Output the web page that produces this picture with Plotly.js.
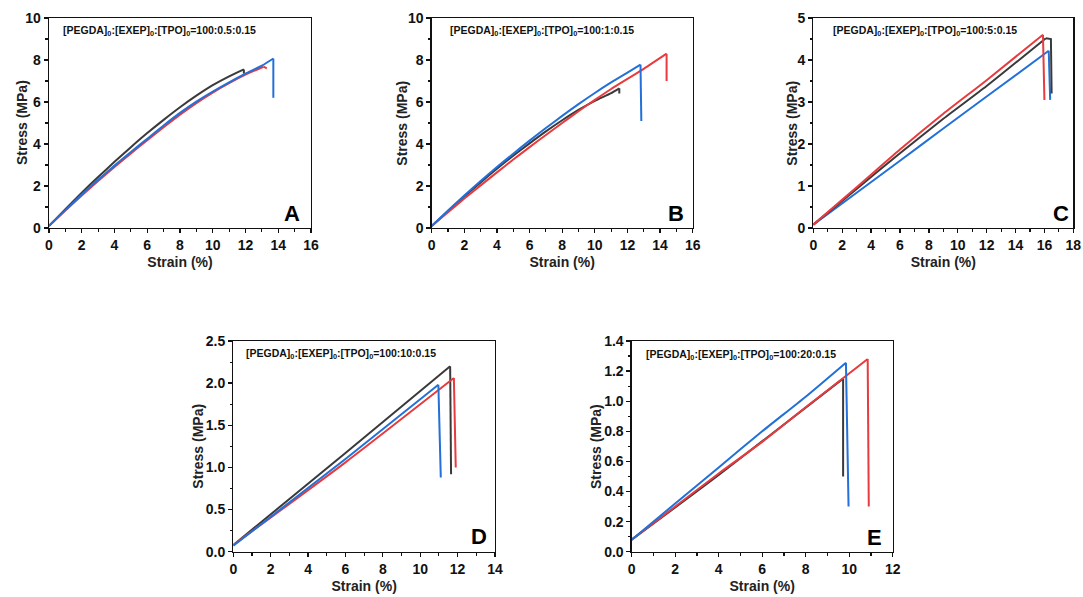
<!DOCTYPE html>
<html>
<head>
<meta charset="utf-8">
<script src="https://cdn.plot.ly/plotly-3.0.1.min.js"></script>
<style>html,body{margin:0;padding:0;background:#fff;}#chart{width:1083px;height:597px;}</style>
</head>
<body>
<div id="chart"></div>
<script>
// ---- Panel A ----
const blackA_x = [0, 1, 2, 3, 4, 5, 6, 7, 8, 9, 10, 11, 11.9, 11.9];
const blackA_y = [0.1, 0.9, 1.68, 2.43, 3.15, 3.85, 4.52, 5.15, 5.75, 6.3, 6.8, 7.22, 7.55, 7.35];
const redA_x = [0, 1, 2, 3, 4, 5, 6, 7, 8, 9, 10, 11, 12, 13.1, 13.3];
const redA_y = [0.1, 0.83, 1.55, 2.24, 2.9, 3.55, 4.18, 4.8, 5.4, 5.95, 6.45, 6.9, 7.3, 7.68, 7.6];
const blueA_x = [0, 1, 2, 3, 4, 5, 6, 7, 8, 9, 10, 11, 12, 13, 13.7, 13.7];
const blueA_y = [0.1, 0.85, 1.6, 2.3, 2.97, 3.62, 4.25, 4.88, 5.48, 6.02, 6.5, 6.94, 7.35, 7.73, 8.07, 6.2];
// ---- Panel B ----
const blackB_x = [0, 1, 2, 3, 4, 5, 6, 7, 8, 9, 10, 11, 11.5, 11.5];
const blackB_y = [0.1, 0.8, 1.5, 2.17, 2.82, 3.44, 4.03, 4.6, 5.13, 5.62, 6.05, 6.42, 6.65, 6.4];
const redB_x = [0, 1, 2, 3, 4, 5, 6, 7, 8, 9, 10, 11, 12, 13, 14.4, 14.4];
const redB_y = [0.1, 0.75, 1.4, 2.03, 2.65, 3.26, 3.85, 4.43, 5.0, 5.56, 6.1, 6.62, 7.1, 7.58, 8.3, 7.0];
const blueB_x = [0, 1, 2, 3, 4, 5, 6, 7, 8, 9, 10, 11, 12, 12.8, 12.85];
const blueB_y = [0.1, 0.83, 1.55, 2.24, 2.9, 3.54, 4.16, 4.76, 5.34, 5.9, 6.43, 6.93, 7.4, 7.78, 5.1];
// ---- Panel C ----
const blueC_x = [0, 3, 6, 9, 12, 16.3, 16.4];
const blueC_y = [0.08, 0.84, 1.6, 2.37, 3.13, 4.22, 3.05];
const blackC_x = [0, 3, 6, 9, 12, 16.1, 16.45, 16.5];
const blackC_y = [0.08, 0.93, 1.78, 2.6, 3.38, 4.52, 4.5, 3.2];
const redC_x = [0, 3, 6, 9, 12, 15.9, 16.0];
const redC_y = [0.08, 0.97, 1.87, 2.72, 3.52, 4.6, 3.05];
// ---- Panel D ----
const blackD_x = [0, 6, 11.6, 11.65];
const blackD_y = [0.08, 1.17, 2.2, 0.92];
const redD_x = [0, 6, 11.8, 11.9];
const redD_y = [0.08, 1.06, 2.06, 1.0];
const blueD_x = [0, 6, 10.97, 11.1];
const blueD_y = [0.07, 1.1, 1.98, 0.88];
// ---- Panel E ----
const blackE_x = [0, 4, 9.72, 9.72];
const blackE_y = [0.08, 0.51, 1.15, 0.5];
const redE_x = [0, 2, 4, 6, 8, 10.85, 10.9];
const redE_y = [0.08, 0.3, 0.52, 0.73, 0.96, 1.28, 0.3];
const blueE_x = [0, 2, 4, 6, 8, 9.85, 9.97];
const blueE_y = [0.08, 0.32, 0.56, 0.8, 1.03, 1.256, 0.3];

const panelLabels = ["A", "B", "C", "D", "E"];
const compositions = [
  "[PEGDA]<sub>0</sub>:[EXEP]<sub>0</sub>:[TPO]<sub>0</sub>=100:0.5:0.15",
  "[PEGDA]<sub>0</sub>:[EXEP]<sub>0</sub>:[TPO]<sub>0</sub>=100:1:0.15",
  "[PEGDA]<sub>0</sub>:[EXEP]<sub>0</sub>:[TPO]<sub>0</sub>=100:5:0.15",
  "[PEGDA]<sub>0</sub>:[EXEP]<sub>0</sub>:[TPO]<sub>0</sub>=100:10:0.15",
  "[PEGDA]<sub>0</sub>:[EXEP]<sub>0</sub>:[TPO]<sub>0</sub>=100:20:0.15"
];
const xTitle = "Strain (%)";
const yTitle = "Stress (MPa)";

const BLACK = "#3a3a3a", RED = "#e83b3f", BLUE = "#2270d8";
// each curve: smooth loading part up to the peak (spline) + straight fracture tail
function tr(x, y, color, ax) {
  let pk = 0;
  y.forEach((v, k) => { if (v > y[pk]) pk = k; });
  const base = {type: "scatter", mode: "lines", xaxis: "x" + ax, yaxis: "y" + ax,
                showlegend: false, hoverinfo: "skip"};
  return [
    Object.assign({}, base, {x: x.slice(0, pk + 1), y: y.slice(0, pk + 1),
      line: {color: color, width: 2, shape: "spline", smoothing: 0.6}}),
    Object.assign({}, base, {x: x.slice(pk), y: y.slice(pk),
      line: {color: color, width: 2}})
  ];
}
const data = [].concat(
  tr(blackA_x, blackA_y, BLACK, ""), tr(redA_x, redA_y, RED, ""), tr(blueA_x, blueA_y, BLUE, ""),
  tr(blackB_x, blackB_y, BLACK, "2"), tr(redB_x, redB_y, RED, "2"), tr(blueB_x, blueB_y, BLUE, "2"),
  tr(blueC_x, blueC_y, BLUE, "3"), tr(blackC_x, blackC_y, BLACK, "3"), tr(redC_x, redC_y, RED, "3"),
  tr(blackD_x, blackD_y, BLACK, "4"), tr(redD_x, redD_y, RED, "4"), tr(blueD_x, blueD_y, BLUE, "4"),
  tr(blackE_x, blackE_y, BLACK, "5"), tr(redE_x, redE_y, RED, "5"), tr(blueE_x, blueE_y, BLUE, "5")
);

const W = 1083, H = 597;
// pixel boxes [left, right, top, bottom]
const boxes = [
  [49, 311, 18, 228],
  [431.7, 692.7, 18, 228],
  [813.3, 1073.3, 18, 228],
  [233.3, 495, 341, 551.7],
  [631.7, 892.7, 341, 551.7]
];
const yTitleX = [22, 401.7, 791.7, 198.3, 596.7];
const xr = [[0, 16, 2], [0, 16, 2], [0, 18, 2], [0, 14, 2], [0, 12, 2]];
const yr = [[0, 10, 2], [0, 10, 2], [0, 5, 1], [0, 2.5, 0.5], [0, 1.4, 0.2]];
const yfmt = ["", "", "", ".1f", ".1f"];
const txtPos = [[0.046, 0.938], [0.062, 0.938], [0.068, 0.938], [0.042, 0.938], [0.048, 0.934]];
const letPos = [[0.927, 0.071], [0.936, 0.071], [0.953, 0.071], [0.939, 0.074], [0.932, 0.068]];

const font = "Liberation Sans, Arial, sans-serif";
const layout = {
  width: W, height: H, margin: {l: 0, r: 0, t: 0, b: 0},
  paper_bgcolor: "#fff", plot_bgcolor: "#fff", showlegend: false,
  font: {family: font, color: "#111"},
  annotations: []
};
boxes.forEach((b, i) => {
  const s = i === 0 ? "" : String(i + 1);
  const common = {showgrid: false, zeroline: false, showline: true, mirror: true,
    linecolor: "#111", linewidth: 1.3, ticks: "outside", ticklen: 4, tickwidth: 1.3,
    tickcolor: "#111", tickfont: {family: font, size: 14, weight: "bold", color: "#111"},
    fixedrange: true};
  layout["xaxis" + s] = Object.assign({}, common, {
    domain: [b[0] / W, b[1] / W], anchor: "y" + s,
    range: [xr[i][0], xr[i][1]], dtick: xr[i][2], tick0: 0,
    minor: {ticks: "outside", ticklen: 2.5, tickwidth: 1.1, dtick: xr[i][2] / 2, tickcolor: "#111"},
    title: {text: xTitle, font: {family: font, size: 14, weight: "bold", color: "#222"}, standoff: 5}
  });
  layout["yaxis" + s] = Object.assign({}, common, {
    domain: [1 - b[3] / H, 1 - b[2] / H], anchor: "x" + s,
    range: [yr[i][0], yr[i][1]], dtick: yr[i][2], tick0: 0, tickformat: yfmt[i],
    minor: {ticks: "outside", ticklen: 2.5, tickwidth: 1.1, dtick: yr[i][2] / 2, tickcolor: "#111"}
  });
  const xa = "x" + (s || "") + " domain", ya = "y" + (s || "") + " domain";
  // y-axis title drawn as rotated annotation to sit close to the tick labels
  layout.annotations.push({
    text: yTitle, xref: "paper", yref: ya, x: yTitleX[i] / W, y: 0.5,
    xanchor: "center", yanchor: "middle", textangle: -90, showarrow: false,
    font: {family: font, size: 14, weight: "bold", color: "#222"}
  });
  layout.annotations.push({
    text: compositions[i], xref: xa, yref: ya, x: txtPos[i][0], y: txtPos[i][1],
    xanchor: "left", yanchor: "middle", showarrow: false,
    font: {family: font, size: 10.5, weight: "bold", color: "#111"}
  });
  layout.annotations.push({
    text: panelLabels[i], xref: xa, yref: ya, x: letPos[i][0], y: letPos[i][1],
    xanchor: "center", yanchor: "middle", showarrow: false,
    font: {family: font, size: 22, weight: "bold", color: "#000"}
  });
});
Plotly.newPlot("chart", data, layout, {staticPlot: true, displayModeBar: false});
</script>
</body>
</html>
